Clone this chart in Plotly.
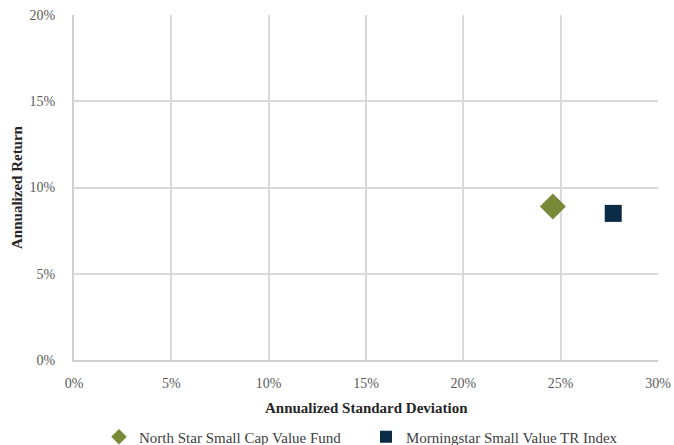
import plotly.graph_objects as go

names = ["North Star Small Cap Value Fund", "Morningstar Small Value TR Index"]
std_dev = [0.246, 0.277]
returns = [0.089, 0.085]
symbols = ["diamond", "square"]
colors = ["#788a38", "#0b2b47"]
sizes = [20, 17]

x_ticks = [0, 0.05, 0.10, 0.15, 0.20, 0.25, 0.30]
y_ticks = [0, 0.05, 0.10, 0.15, 0.20]
x_title = "Annualized Standard Deviation"
y_title = "Annualized Return"

fig = go.Figure()
for n, x, y, s, c, sz in zip(names, std_dev, returns, symbols, colors, sizes):
    fig.add_trace(go.Scatter(x=[x], y=[y], mode="markers", name=n,
                             marker=dict(symbol=s, color=c, size=sz, line=dict(width=0))))

font_fam = "Liberation Serif, DejaVu Serif, serif"
fig.update_layout(
    width=674, height=445,
    margin=dict(l=74, r=16, t=15, b=85),
    paper_bgcolor="white", plot_bgcolor="white",
    font=dict(family=font_fam, color="#595959", size=14),
    showlegend=True,
    legend=dict(orientation="h", x=0.5, xanchor="center", xref="paper",
                y=0.018, yanchor="middle", yref="container",
                entrywidth=222, entrywidthmode="pixels",
                font=dict(size=15, color="#404040"), itemsizing="constant"),
    xaxis=dict(range=[0, 0.30], tickvals=x_ticks, tickformat=".0%",
               showgrid=True, gridcolor="#d9d9d9", gridwidth=2,
               showline=True, linecolor="#d0d0d0", linewidth=2, mirror=False,
               zeroline=False, ticks="", ticklabelstandoff=9, automargin=False),
    yaxis=dict(range=[0, 0.20], tickvals=y_ticks, tickformat=".0%",
               showgrid=True, gridcolor="#d9d9d9", gridwidth=2,
               showline=True, linecolor="#d0d0d0", linewidth=2,
               zeroline=False, ticks="", ticklabelstandoff=14, automargin=False,
               title=dict(text="<b>" + y_title + "</b>",
                          font=dict(size=15, color="#262626"), standoff=3)),
    annotations=[dict(text="<b>" + x_title + "</b>", xref="paper", yref="paper",
                      x=0.5, y=0, xanchor="center", yanchor="middle", yshift=-48,
                      showarrow=False, font=dict(size=15, color="#262626"))],
)
fig.write_html("out.html", config={"displayModeBar": False})

with open("out.html", "r", encoding="utf-8") as f:
    html = f.read()
html = html.replace("<body>", '<body style="margin:0;padding:0;">', 1)
with open("out.html", "w", encoding="utf-8") as f:
    f.write(html)
